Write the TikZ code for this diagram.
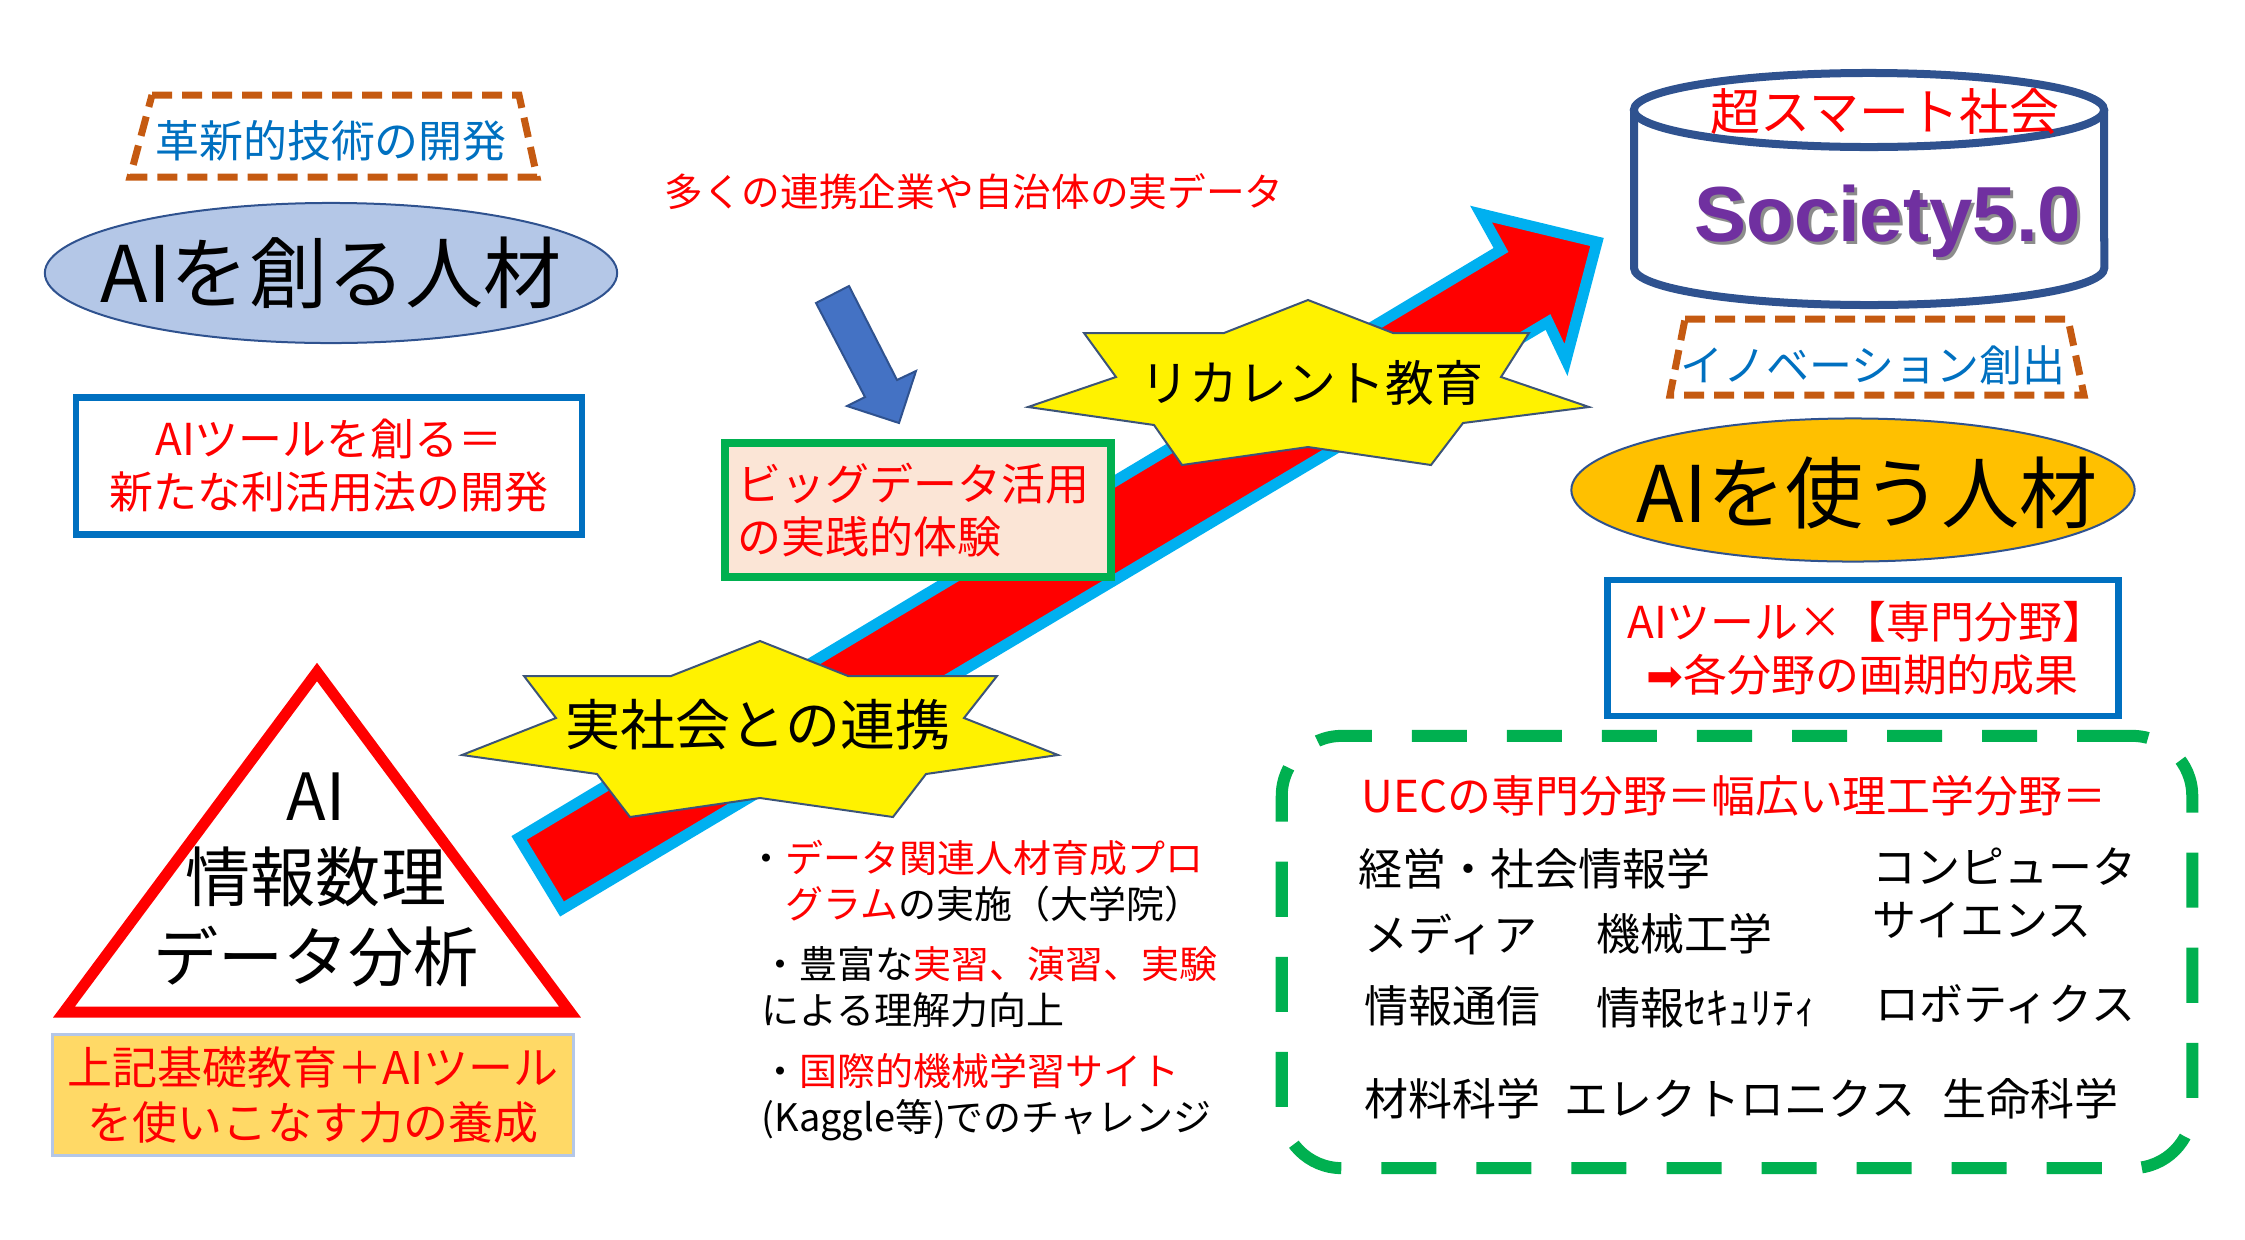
\documentclass[tikz,border=0pt]{standalone}
\usepackage{fontspec}
\usepackage{xcolor}
\setmainfont{Noto Sans CJK JP}
\newfontfamily\latinsans{Liberation Sans}
\newfontfamily\symfont{DejaVu Sans}
\usetikzlibrary{shapes.geometric}

\definecolor{trapbrown}{RGB}{197,90,17}
\definecolor{uecblue}{RGB}{0,112,192}
\definecolor{paleblue}{RGB}{180,199,231}
\definecolor{navy}{RGB}{47,82,143}
\definecolor{skyblue}{RGB}{0,176,240}
\definecolor{starline}{RGB}{60,84,120}
\definecolor{arrowblue}{RGB}{68,114,196}
\definecolor{uecgreen}{RGB}{0,176,80}
\definecolor{peach}{RGB}{251,229,214}
\definecolor{violet5}{RGB}{112,48,160}
\definecolor{amber}{RGB}{255,192,0}
\definecolor{butter}{RGB}{255,217,102}

\begin{document}
\begin{tikzpicture}[x=0.01cm,y=-0.01cm,
        txt/.style={inner sep=0pt},
        trapdash/.style={draw=trapbrown,line width=0.07cm,dash pattern=on 0.2cm off 0.1cm},
        starfill/.style={fill=yellow,draw=starline,line width=0.02cm},
        bigtxt/.style={txt,font=\fontsize{22.2pt}{26pt}\selectfont},
        midtxt/.style={txt,font=\fontsize{12.5pt}{15.1pt}\selectfont},
        bullet/.style={txt,anchor=west,align=left,font=\fontsize{10.8pt}{13pt}\selectfont},
        field/.style={txt,anchor=west,align=left,font=\fontsize{12.5pt}{15.1pt}\selectfont}]
        \useasboundingbox (0,0) rectangle (2245,1239);

        % big arrow
        \filldraw[fill=red,draw=skyblue,line width=0.11cm,line join=miter]
            (519,838) -- (1501,250) -- (1481,214) -- (1597,242) -- (1566,360) -- (1548,322) -- (562,909) -- cycle;

        % left side
        \draw[trapdash] (152,95) -- (519,95) -- (537,177) -- (130,177) -- cycle;
        \node[midtxt,text=uecblue] (develop) at (331,141) {革新的技術の開発};
        \node[ellipse,draw=navy,fill=paleblue,line width=0.02cm,minimum width=5.72cm,minimum height=1.4cm] (create) at (331,273) {};
        \node[bigtxt] (createtxt) at (create) {AIを創る人材};
        \node[midtxt,draw=uecblue,line width=0.065cm,text=red,align=center,minimum width=5.06cm,minimum height=1.37cm] (tool) at (329,466) {AIツールを創る＝\\新たな利活用法の開発};

        \draw[red,fill=white,line width=0.11cm] (317,672) -- (570,1012) -- (64,1012) -- cycle;
        \node[txt,align=center,font=\fontsize{18.5pt}{22.8pt}\selectfont] (basics) at (316,880) {AI\\情報数理\\データ分析};
        \node[txt,draw=paleblue,fill=butter,line width=0.03cm,text=red,align=center,minimum width=5.21cm,minimum height=1.2cm,
            font=\fontsize{12.8pt}{15.4pt}\selectfont] (skill) at (313,1095) {上記基礎教育＋AIツール\\を使いこなす力の養成};

        % middle
        \node[txt,text=red,font=\fontsize{11pt}{13pt}\selectfont] (realdata) at (974,192) {多くの連携企業や自治体の実データ};
        \filldraw[fill=arrowblue,draw=navy,line width=0.02cm]
            (816,303) -- (849,286) -- (897,380) -- (916,371) -- (899,423) -- (847,406) -- (865,397) -- cycle;
        \node[midtxt,draw=uecgreen,fill=peach,line width=0.08cm,text=red,align=left,text width=3.6cm,
            minimum width=3.85cm,minimum height=1.34cm] (bigdata) at (918,510) {ビッグデータ活用\\の実践的体験};

        \filldraw[starfill] (1308,300) -- (1393,333) -- (1529,333) -- (1501,377) -- (1589,407) -- (1463,423) -- (1431,465)
            -- (1308,447) -- (1182,465) -- (1154,425) -- (1028,407) -- (1116,377) -- (1084,333) -- (1224,333) -- cycle;
        \node[txt,font=\fontsize{13.9pt}{16pt}\selectfont] (recurrent) at (1312,383) {リカレント教育};
        \filldraw[starfill] (760,641) -- (848,676) -- (997,676) -- (964,718) -- (1058,755) -- (926,774) -- (893,817)
            -- (760,798) -- (630,817) -- (597,774) -- (462,755) -- (556,718) -- (524,676) -- (671,676) -- cycle;
        \node[txt,font=\fontsize{15.65pt}{18pt}\selectfont] (society) at (758,725) {実社会との連携};

        \node[bullet] (program) at (747,881) {・\textcolor{red}{データ関連人材育成プロ}\\\hspace*{1em}\textcolor{red}{グラム}の実施（大学院）};
        \node[bullet] (practice) at (761,987) {・豊富な\textcolor{red}{実習、演習、実験}\\による理解力向上};
        \node[bullet] (kaggle) at (761,1097) {・\textcolor{red}{国際的機械学習サイト}\\(Kaggle等)でのチャレンジ};

        % right side
        \filldraw[draw=navy,fill=white,line width=0.08cm] (1634,110) -- (1634,268)
            arc[start angle=180,end angle=360,x radius=2.35cm,y radius=0.37cm] -- (2104,110);
        \draw[navy,fill=white,line width=0.08cm] (1869,110) ellipse [x radius=2.35cm,y radius=0.37cm];
        \node[txt,text=red,font=\fontsize{14.2pt}{17pt}\selectfont] (smart) at (1885,112) {超スマート社会};
        \node[txt,anchor=base,text=black!45,font=\latinsans\bfseries\fontsize{22.2pt}{26pt}\selectfont] (s5shadow) at (1891,244) {Society5.0};
        \node[txt,anchor=base,text=violet5,font=\latinsans\bfseries\fontsize{22.2pt}{26pt}\selectfont] (s5) at (1888,241) {Society5.0};

        \draw[trapdash] (1685,319) -- (2068,319) -- (2084,395) -- (1670,395) -- cycle;
        \node[txt,text=uecblue,font=\fontsize{12.2pt}{15pt}\selectfont] (innovation) at (1873,365) {イノベーション創出};
        \node[ellipse,draw=navy,fill=amber,line width=0.02cm,minimum width=5.63cm,minimum height=1.43cm] (use) at (1853,490) {};
        \node[bigtxt] (usetxt) at (1867,493) {AIを使う人材};
        \node[midtxt,draw=uecblue,line width=0.065cm,text=red,align=left,text width=4.71cm,minimum width=5.11cm,minimum height=1.36cm]
            (result) at (1863,648) {AIツール×【専門分野】\\\hspace*{0.19cm}{\symfont ➡}各分野の画期的成果};

        \node[draw=uecgreen,line width=0.12cm,dash pattern=on 0.55cm off 0.4cm,rounded corners=0.6cm,
            minimum width=9.1cm,minimum height=4.32cm] (fields) at (1737,952) {};
        \node[field,text=red] (uec) at (1361,796) {UECの専門分野＝幅広い理工学分野＝};
        \foreach \n/\x/\y/\t in {keiei/1358/869/経営・社会情報学, cs/1872/893/コンピュータ\\サイエンス,
                media/1364/934/メディア, mech/1596/934/機械工学,
                comm/1364/1006/情報通信, secu/1596/1008/情報ｾｷｭﾘﾃｨ, robot/1875/1004/ロボティクス,
                mat/1364/1099/材料科学, elec/1564/1099/エレクトロニクス, life/1942/1099/生命科学}
            \node[field] (\n) at (\x,\y) {\t};
\end{tikzpicture}
\end{document}
